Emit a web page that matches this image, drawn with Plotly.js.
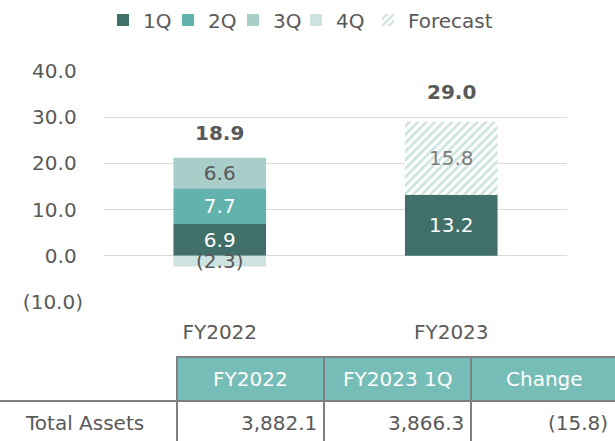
<!DOCTYPE html>
<html>
<head>
<meta charset="utf-8">
<script src="https://cdn.plot.ly/plotly-3.0.1.min.js"></script>
<style>html,body{margin:0;padding:0;background:#fff;}#chart{width:615px;height:441px;}</style>
</head>
<body>
<div id="chart"></div>
<script>
// ---- data ----
var categories = ['FY2022', 'FY2023'];
var q1 = [6.9, 13.2];
var q2 = [7.7, null];
var q3 = [6.6, null];
var q4 = [-2.3, null];
var forecast = [null, 15.8];
var totals = [18.9, 29.0];
var yTickVals = [-10, 0, 10, 20, 30, 40];
var tableHeaders = ['FY2022', 'FY2023 1Q', 'Change'];
var tableRowLabel = 'Total Assets';
var tableValues = ['3,882.1', '3,866.3', '(15.8)'];

// ---- helpers ----
var W = 615, H = 441, ML = 104, MR = 48, MT = 71, MB = 139;
var PW = W - ML - MR, PH = H - MT - MB;
function px(x) { return (x - ML) / PW; }
function py(y) { return (H - MB - y) / PH; }
function fmt(v) {
  if (v === null || v === undefined) return '';
  return v < 0 ? '(' + Math.abs(v).toFixed(1) + ')' : v.toFixed(1);
}
function tickFmt(v) {
  return v < 0 ? '(' + Math.abs(v).toFixed(1) + ')' : v.toFixed(1) + '\u2008';
}

var FONT = 'DejaVu Sans, Verdana, sans-serif';
var GREY = '#595959';

function barTrace(name, vals, color, textColor) {
  return {
    type: 'bar', name: name, x: categories, y: vals,
    marker: { color: color, line: { width: 0 } },
    text: vals.map(fmt), textposition: 'inside', insidetextanchor: 'middle',
    constraintext: 'none', textangle: 0,
    textfont: { family: FONT, size: 20, color: textColor },
    hoverinfo: 'skip'
  };
}

var traces = [
  barTrace('1Q', q1, '#41706A', '#FFFFFF'),
  barTrace('2Q', q2, '#62B3AD', '#FFFFFF'),
  barTrace('3Q', q3, '#A9CDC9', GREY),
  barTrace('4Q', q4, '#CDE3E0', GREY),
  barTrace('Forecast', forecast, '#CDE3E0', '#7F7F7F')
];
traces[4].marker = {
  color: '#FFFFFF',
  line: { width: 0 },
  pattern: { shape: '/', fgcolor: '#CDE3E0', bgcolor: '#FFFFFF', size: 6, solidity: 0.45 }
};

// total labels
var annotations = [];
var totalShift = [11, 16];
categories.forEach(function (c, i) {
  var top = (q1[i] || 0) + (q2[i] || 0) + (q3[i] || 0) + (forecast[i] || 0);
  annotations.push({
    x: c, y: top, xref: 'x', yref: 'y', yanchor: 'bottom', yshift: totalShift[i],
    text: '<b>' + fmt(totals[i]) + '</b>', showarrow: false,
    font: { family: FONT, size: 20, color: GREY }
  });
});

// table
var shapes = [];
var colX = [177, 324, 471, 617];
var hTop = 357, hBot = 401, bBot = 446;
var lineCol = '#808080';
for (var i = 0; i < tableHeaders.length; i++) {
  shapes.push({ type: 'rect', xref: 'paper', yref: 'paper',
    x0: px(colX[i]), x1: px(colX[i + 1]), y0: py(hTop), y1: py(hBot),
    fillcolor: '#77BDB7', line: { color: lineCol, width: 2 } });
  shapes.push({ type: 'rect', xref: 'paper', yref: 'paper',
    x0: px(colX[i]), x1: px(colX[i + 1]), y0: py(hBot), y1: py(bBot),
    fillcolor: '#FFFFFF', line: { color: lineCol, width: 2 } });
  annotations.push({ xref: 'paper', yref: 'paper',
    x: px((colX[i] + Math.min(colX[i + 1], 615)) / 2 + (i === 2 ? 1 : 0)), y: py(379),
    xanchor: 'center', yanchor: 'middle', text: tableHeaders[i], showarrow: false,
    font: { family: FONT, size: 20, color: '#FFFFFF' } });
  annotations.push({ xref: 'paper', yref: 'paper',
    x: px(Math.min(colX[i + 1], 615) - 5), y: py(423),
    xanchor: 'right', yanchor: 'middle', text: tableValues[i], showarrow: false,
    font: { family: FONT, size: 20, color: GREY } });
}
shapes.push({ type: 'line', xref: 'paper', yref: 'paper',
  x0: px(-2), x1: px(colX[0]), y0: py(hBot), y1: py(hBot),
  line: { color: lineCol, width: 2 } });
annotations.push({ xref: 'paper', yref: 'paper', x: px(84), y: py(423),
  xanchor: 'center', yanchor: 'middle', text: tableRowLabel, showarrow: false,
  font: { family: FONT, size: 20, color: GREY } });

var layout = {
  width: W, height: H,
  margin: { l: ML, r: MR, t: MT, b: MB, pad: 0, autoexpand: false },
  paper_bgcolor: '#FFFFFF', plot_bgcolor: '#FFFFFF',
  barmode: 'relative', bargap: 0.6,
  font: { family: FONT, size: 20, color: GREY },
  showlegend: true,
  xaxis: {
    type: 'category', range: [-0.5, 1.5], fixedrange: true,
    showgrid: false, zeroline: false, showline: false, ticks: '',
    tickfont: { family: FONT, size: 20, color: GREY }, ticklabelstandoff: 16
  },
  yaxis: {
    range: [-10, 40], fixedrange: true,
    tickvals: yTickVals, ticktext: yTickVals.map(tickFmt),
    showgrid: true, gridcolor: '#D9D9D9', gridwidth: 1,
    zeroline: false, showline: false, ticks: '',
    tickfont: { family: FONT, size: 20, color: GREY }, ticklabelstandoff: 20
  },
  annotations: annotations,
  shapes: shapes
};

// one legend per entry, so each marker sits where the reference puts it
var legendMarkerX = [117, 182, 247, 310, 382];
traces.forEach(function (t, i) {
  var key = i === 0 ? 'legend' : 'legend' + (i + 1);
  t.legend = key;
  layout[key] = {
    orientation: 'h', x: px(legendMarkerX[i] - 14), xanchor: 'left',
    y: py(20), yanchor: 'middle',
    font: { family: FONT, size: 20, color: GREY },
    itemclick: false, itemdoubleclick: false,
    bgcolor: 'rgba(0,0,0,0)', borderwidth: 0
  };
});

Plotly.newPlot('chart', traces, layout, { staticPlot: true, displayModeBar: false });
</script>
</body>
</html>
